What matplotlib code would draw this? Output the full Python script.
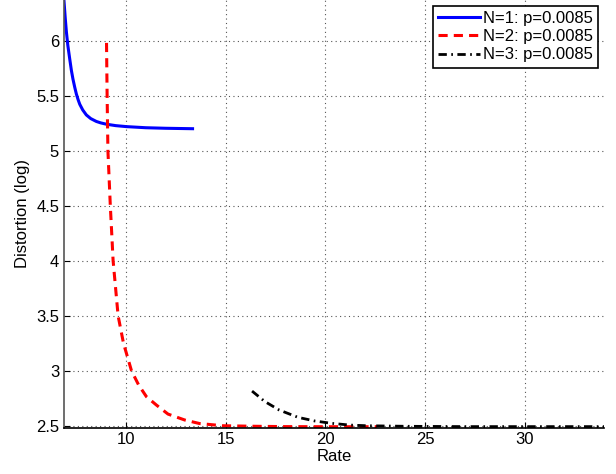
import matplotlib
matplotlib.use("Agg")
import matplotlib.pyplot as plt

plt.rcParams['font.family'] = ['Liberation Sans', 'DejaVu Sans']

# N=1 curve
rate_n1 = [6.91, 6.97, 7.03, 7.10, 7.20, 7.28, 7.36, 7.45, 7.53, 7.62, 7.70, 7.85, 8.03, 8.25,
           8.53, 8.75, 9.03, 9.5, 10.04, 11.0, 12.0, 13.35]
dist_n1 = [6.36, 6.21, 6.08, 5.96, 5.83, 5.73, 5.65, 5.575, 5.515, 5.462, 5.422, 5.37, 5.325,
           5.292, 5.266, 5.253, 5.241, 5.228, 5.219, 5.209, 5.204, 5.20]

# N=2 curve
rate_n2 = [9.04, 9.07, 9.11, 9.23, 9.37, 9.62, 9.89, 10.29, 10.65, 11.04, 11.54, 12.12,
           12.96, 13.7, 14.86, 16.5, 18.0, 20.0, 22.6]
dist_n2 = [5.98, 5.5, 5.0, 4.5, 4.0, 3.5, 3.25, 3.0, 2.87, 2.764, 2.688, 2.606,
           2.552, 2.52, 2.50, 2.495, 2.492, 2.491, 2.491]

# N=3 curve
rate_n3 = [16.33, 16.97, 17.69, 18.64, 19.48, 20.31, 21.23, 22.07, 24.0, 27.0, 30.0, 33.96]
dist_n3 = [2.815, 2.72, 2.643, 2.576, 2.543, 2.522, 2.506, 2.50, 2.495, 2.492, 2.492, 2.492]

labels = ["N=1: p=0.0085", "N=2: p=0.0085", "N=3: p=0.0085"]
xticks = [10, 15, 20, 25, 30]
yticks = [2.5, 3, 3.5, 4, 4.5, 5, 5.5, 6]
yticklabels = ["2.5", "3", "3.5", "4", "4.5", "5", "5.5", "6"]

W, H = 616, 474
fig = plt.figure(figsize=(W / 100, H / 100), dpi=100)
ax = fig.add_axes([64 / W, (H - 427.5) / H, (604 - 64) / W, 427.5 / H])

ax.plot(rate_n1, dist_n1, color='#0000ff', lw=2.2, label=labels[0])
ax.plot(rate_n2, dist_n2, color='#ff0000', lw=2.2, ls=(0, (3, 2)), label=labels[1])
ax.plot(rate_n3, dist_n3, color='black', lw=2.0, ls=(0, (3, 1.6, 0.6, 1.6)), label=labels[2])

ax.set_xlim(6.91, 33.96)
ax.set_ylim(2.484, 6.37)
ax.set_xticks(xticks)
ax.set_yticks(yticks)
ax.set_yticklabels(yticklabels)
ax.grid(True, ls=(0, (1, 3)), color='#555555', lw=0.8)
ax.tick_params(direction='in', length=4, labelsize=12, colors='black')
ax.spines['top'].set_visible(False)
ax.spines['right'].set_visible(False)
ax.spines['left'].set_color('#555555')
ax.spines['left'].set_linewidth(1.2)
ax.spines['bottom'].set_linewidth(1.2)

ax.set_xlabel("Rate", fontsize=12, labelpad=1)
ax.set_ylabel("Distortion (log)", fontsize=12, labelpad=4)

leg = ax.legend(loc='upper right', fontsize=12, frameon=True, fancybox=False,
                edgecolor='black', framealpha=1, borderpad=0.3, labelspacing=0.2,
                handlelength=2.5, handletextpad=0.2, borderaxespad=0.35)
leg.get_frame().set_linewidth(1.2)

fig.savefig("out.png", dpi=100)
